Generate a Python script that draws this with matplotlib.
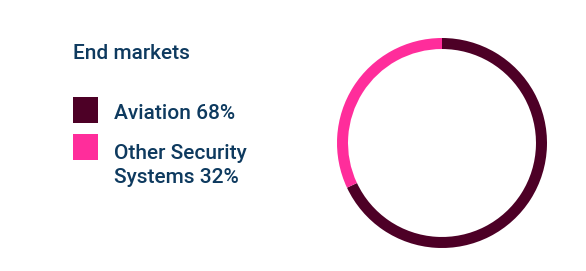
import matplotlib
matplotlib.use("Agg")
import matplotlib.pyplot as plt
from matplotlib.patches import Rectangle

categories = ["Aviation", "Other Security\nSystems"]
values = [68, 32]
colors = ["#4d0026", "#ff2d9b"]
title = "End markets"
text_color = "#0e3a5f"

W, H = 586, 271
fig = plt.figure(figsize=(W / 100, H / 100), dpi=100)
plt.rcParams['font.family'] = ['Roboto', 'DejaVu Sans']

# donut
cx, cy, r = 442, 271 - 143, 105
ax = fig.add_axes([(cx - r) / W, (cy - r) / H, 2 * r / W, 2 * r / H])
ax.pie(values, colors=colors, startangle=90, counterclock=False, radius=1,
       wedgeprops=dict(width=0.105, edgecolor='none'))
ax.set_xlim(-1, 1)
ax.set_ylim(-1, 1)
ax.set_aspect('equal')
ax.axis('off')

def px(x, y):
    return x / W, 1 - y / H

fs = 15
fig.text(*px(73, 59), title, fontsize=fs, fontweight='medium', color=text_color, va='baseline', ha='left')

sq_tops = [97, 134]
baselines = [119, 159]
line_gap = 24
for cat, v, c, top, bl in zip(categories, values, colors, sq_tops, baselines):
    x0, y0 = px(73, top + 26)
    fig.patches.append(Rectangle((x0, y0), 25 / W, 26 / H, transform=fig.transFigure,
                                 facecolor=c, edgecolor='none'))
    lines = f"{cat} {v}%".split("\n")
    for i, ln in enumerate(lines):
        fig.text(*px(114, bl + i * line_gap), ln, fontsize=fs, fontweight='medium',
                 color=text_color, va='baseline', ha='left')

fig.savefig("out.png", dpi=100, facecolor='white')
